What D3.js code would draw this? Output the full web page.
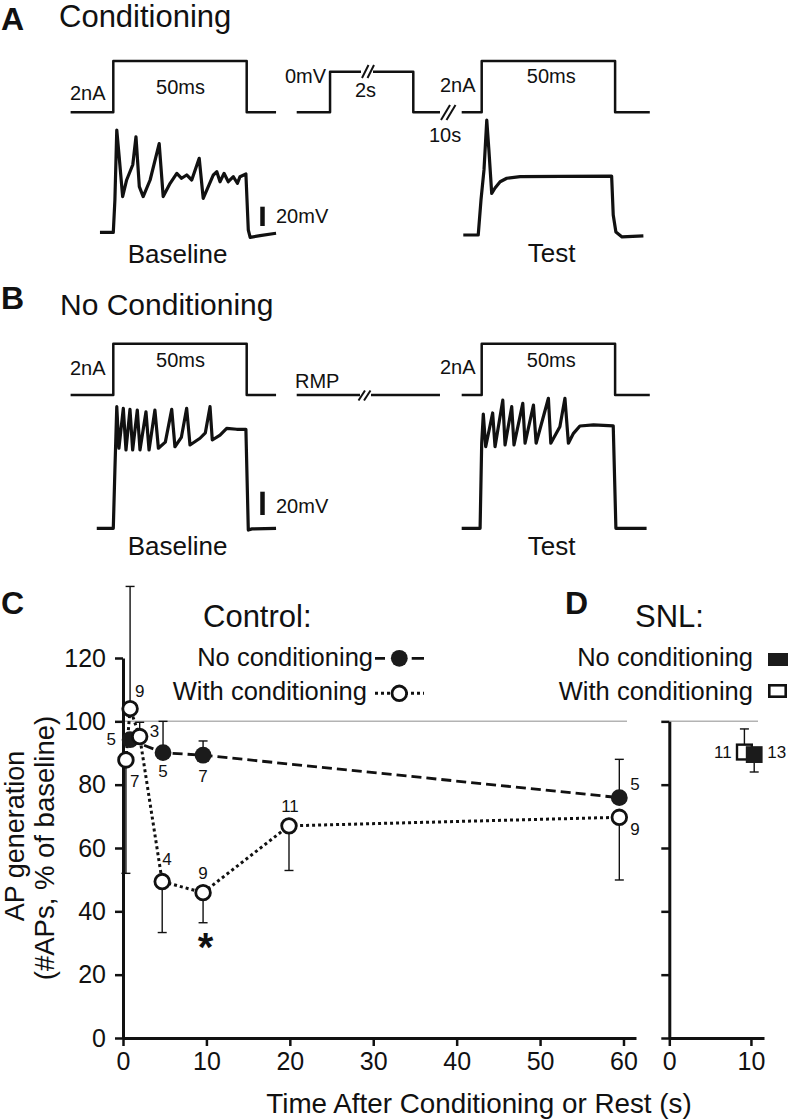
<!DOCTYPE html>
<html>
<head>
<meta charset="utf-8">
<script src="https://cdn.jsdelivr.net/npm/d3@7"></script>
<style>
  body { margin: 0; background: #fff; }
  svg { display: block; }
  text { font-family: "Liberation Sans", Arial, sans-serif; fill: #111; }
</style>
</head>
<body>
<div id="fig"></div>
<script>
// ---- panel C: control neurons, AP generation (% of baseline) vs time (s) ----
var noCondTime = [0.85, 4.8, 9.6, 59.5];
var noCondAP = [94.2, 90.1, 89.3, 75.9];
var noCondErrUp = [0, 9.9, 4.5, 12.1];
var noCondErrDown = [0, 0, 0, 0];
var noCondN = [5, 5, 7, 5];

var condTime = [0.35, 0.85, 2.0, 4.7, 9.6, 19.9, 59.5];
var condAP = [87.8, 104, 95.2, 49.4, 45.9, 67.0, 69.7];
var condErrUp = [0, 38.6, 4.5, 0, 0, 0, 0];
var condErrDown = [35.8, 0, 0, 16.1, 9.5, 14.1, 19.8];
var condN = [7, 9, 3, 4, 9, 11, 9];

// ---- panel D: SNL neurons ----
var snlCondTime = [9.2], snlCondAP = [90.3], snlCondErrUp = [7.3], snlCondN = [11];
var snlNoCondTime = [10.4], snlNoCondAP = [89.5], snlNoCondErrDown = [5.5], snlNoCondN = [13];

var yTicksC = [0, 20, 40, 60, 80, 100, 120];
var xTicksC = [0, 10, 20, 30, 40, 50, 60];
var yTicksD = [0, 20, 40, 60, 80, 100];
var xTicksD = [0, 10];

// ---- panels A/B: recorded traces, time (ms) and membrane potential (mV) ----
var condBaseT = [-5, 0, 0.6, 1.3, 2.2, 3.5, 5.0, 7.3, 8.5, 9.75, 11.2, 13.8, 17.2, 18.7, 21.3, 23.8, 25.6, 27.5, 29.4, 32.2, 33.7, 35.6, 37.5, 38.8, 40, 41.5, 43.1, 45, 46.5, 47.5, 49.7, 50.6, 51.3, 55, 61];
var condBaseV = [-60, -60, -26.5, 46, 18.3, -23, -5.8, 10, 39, -12.7, -23, -5.8, 32, -23, -9.2, 1.1, -4.0, -0.6, -5.8, 16.7, -24.8, -12.7, -0.6, 2.8, -7.6, 1.1, -7.6, -2.4, -9.2, -2.4, 0.4, -57.6, -65.2, -63.5, -61];
var condTestT = [-6.9, -1.3, -0.26, 0.86, 1.9, 2.7, 3.75, 5, 6.9, 9.4, 14.4, 30, 48.7, 49.3, 50.3, 52.6, 60.6];
var condTestV = [-60, -60, -23.7, 7.4, 59, 28, -16.8, -11.3, -4.8, -1.2, 0.4, 0.8, 1.1, -39.3, -56.9, -62, -61];
var restBaseT = [-6.2, 0, 0.6, 1.3, 2.1, 3.75, 4.75, 6.25, 7.25, 9.0, 10.0, 12.25, 13.4, 15.6, 16.9, 19.5, 21.9, 23.1, 25.5, 27.5, 28.75, 32.5, 34.5, 36.25, 37.1, 40, 42.5, 46.25, 49.7, 50.6, 52, 61];
var restBaseV = [-60, -60, -10, 44.4, 8.7, 43, 7.2, 42.1, 7.2, 41.5, 7.2, 40, 7.2, 41.5, 8.7, 14, 42.1, 10, 18, 43, 11.5, 17.3, 22, 44.4, 15.8, 20, 25.8, 25, 25, -61.5, -60.5, -60];
var restTestT = [-7.5, -0.6, 0, 0.6, 1.5, 4.1, 5, 7.9, 8.75, 11.25, 12.1, 15.4, 16.25, 19.4, 20.4, 25, 25.9, 29.3, 31.2, 32.5, 34.4, 36.8, 41.9, 49.3, 50.3, 61.8];
var restTestV = [-60, -60, 13, 38, 10, 39, 10, 50, 11.5, 44.4, 11.5, 47.3, 13, 45.8, 13, 51.6, 13, 27.2, 51.6, 13, 21.5, 27.8, 28.7, 28, -60, -60];

// command protocols
var pulseT = [-16, 0, 0, 50, 50, 61], pulseI = [0, 0, 2, 2, 0, 0];
var testPulseT = [-7.5, 0, 0, 50, 50, 63];
var condStepT = [0, 12.5, 12.5, 43.7, 43.7, 53.7], condStepV = [-60, -60, 0, 0, -60, -60];
var rmpT = [0, 53.7], rmpV = [-60, -60];

var W = 788, H = 1120, ink = '#111';
var svg = d3.select('#fig').append('svg').attr('width', W).attr('height', H);

function txt(x, y, s, size, anchor, weight) {
    return svg.append('text').attr('x', x).attr('y', y).text(s)
        .attr('font-size', size).attr('text-anchor', anchor || 'start')
        .attr('font-weight', weight || 'normal');
}

function path(xs, ys, tArr, vArr, width, dash) {
    var line = d3.line()
        .x(function (d, i) { return xs(tArr[i]); })
        .y(function (d, i) { return ys(vArr[i]); });
    return svg.append('path').datum(tArr).attr('d', line)
        .attr('fill', 'none').attr('stroke', ink).attr('stroke-width', width)
        .attr('stroke-linejoin', 'round').attr('stroke-dasharray', dash || null);
}

// ms -> px (50 ms pulse = 133.4 px), offset per trace
function timeScale(x0) { return d3.scaleLinear().domain([0, 50]).range([x0, x0 + 133.4]); }
function mvScale(y0, pxPer20) { return d3.scaleLinear().domain([-60, -40]).range([y0, y0 - pxPer20]); }
function nAScale(y0) { return d3.scaleLinear().domain([0, 2]).range([y0, y0 - 51.3]); }

function breakMark(x1, x2, y1, y2, gap) {
    if (gap) svg.append('rect').attr('x', gap[0]).attr('y', gap[1]).attr('width', gap[2]).attr('height', gap[3]).attr('fill', '#fff');
    [0, 5.5].forEach(function (o) {
        svg.append('line').attr('x1', x1 + o).attr('y1', y1).attr('x2', x2 + o).attr('y2', y2)
            .attr('stroke', ink).attr('stroke-width', 2);
    });
}

// ================= panel A =================
txt(1, 30, 'A', 32, 'start', 'bold');
txt(59, 27, 'Conditioning', 31);
path(timeScale(113.3), nAScale(112.3), pulseT, pulseI, 2.5);
path(timeScale(296.7), d3.scaleLinear().domain([-60, 0]).range([112.3, 71.7]), condStepT, condStepV, 2.5);
breakMark(362, 368.5, 78, 65, [361, 66, 12, 12]);
path(timeScale(481.7), nAScale(112.3), testPulseT, pulseI, 2.5);
breakMark(441, 450, 120, 105);
txt(70, 100, '2nA', 20); txt(180.5, 94.3, '50ms', 20, 'middle');
txt(285, 83.3, '0mV', 20); txt(355, 96.7, '2s', 20);
txt(429, 141.7, '10s', 20);
txt(440, 91.7, '2nA', 20); txt(551.3, 83.3, '50ms', 20, 'middle');

path(timeScale(113.3), mvScale(232.3, 19.3), condBaseT, condBaseV, 3.2);
path(timeScale(481.7), mvScale(235, 19.3), condTestT, condTestV, 3.2);
svg.append('line').attr('x1', 262.5).attr('x2', 262.5).attr('y1', 226).attr('y2', 226 - 19.3)
    .attr('stroke', ink).attr('stroke-width', 4.5);
txt(276, 222.5, '20mV', 20);
txt(177.5, 263, 'Baseline', 26, 'middle');
txt(551.7, 262, 'Test', 26, 'middle');

// ================= panel B =================
txt(1, 309, 'B', 32, 'start', 'bold');
txt(60, 315, 'No Conditioning', 30);
path(timeScale(113.3), nAScale(395), pulseT, pulseI, 2.5);
path(timeScale(296.7), d3.scaleLinear().domain([-60, 0]).range([395, 354.4]), rmpT, rmpV, 2.5);
breakMark(358.5, 365, 400.5, 390.5, [360, 390, 11, 10]);
path(timeScale(481.7), nAScale(395), testPulseT, pulseI, 2.5);
txt(70, 375, '2nA', 20); txt(180.5, 367.3, '50ms', 20, 'middle');
txt(295, 388.3, 'RMP', 20);
txt(440, 374, '2nA', 20); txt(551.3, 366.7, '50ms', 20, 'middle');

path(timeScale(113.3), mvScale(528.3, 23.3), restBaseT, restBaseV, 3.2);
path(timeScale(481.7), mvScale(528.3, 23.3), restTestT, restTestV, 3.2);
svg.append('line').attr('x1', 262.5).attr('x2', 262.5).attr('y1', 515).attr('y2', 515 - 23.3)
    .attr('stroke', ink).attr('stroke-width', 4.5);
txt(276, 512.5, '20mV', 20);
txt(177.5, 555, 'Baseline', 26, 'middle');
txt(551.7, 555, 'Test', 26, 'middle');

// ================= panel C =================
var xC = d3.scaleLinear().domain([0, 61.5]).range([123, 636]);
var yC = d3.scaleLinear().domain([0, 120]).range([1038, 658]);
var xD = d3.scaleLinear().domain([0, 11.6]).range([669.3, 764]);
var yD = d3.scaleLinear().domain([0, 100]).range([yC(0), yC(100)]);

function styleAxis(g) {
    g.attr('font-size', 25).attr('font-family', '"Liberation Sans", Arial, sans-serif');
    g.select('.domain').attr('stroke', ink).attr('stroke-width', 3);
    g.selectAll('.tick line').attr('stroke', ink).attr('stroke-width', 2.5);
    g.selectAll('.tick text').attr('fill', ink);
}

// reference line at 100 %
svg.append('line').attr('x1', xC(0)).attr('x2', 627).attr('y1', yC(100)).attr('y2', yC(100))
    .attr('stroke', '#b3b3b3').attr('stroke-width', 1.5);
svg.append('line').attr('x1', xD(0)).attr('x2', 758).attr('y1', yD(100)).attr('y2', yD(100))
    .attr('stroke', '#b3b3b3').attr('stroke-width', 1.5);

styleAxis(svg.append('g').attr('transform', 'translate(' + xC(0) + ',0)')
    .call(d3.axisLeft(yC).tickValues(yTicksC).tickSize(8).tickSizeOuter(0).tickPadding(9)));
styleAxis(svg.append('g').attr('transform', 'translate(0,' + yC(0) + ')')
    .call(d3.axisBottom(xC).tickValues(xTicksC).tickSize(8).tickSizeOuter(0).tickPadding(6)));
styleAxis(svg.append('g').attr('transform', 'translate(' + xD(0) + ',0)')
    .call(d3.axisLeft(yD).tickValues(yTicksD).tickFormat('').tickSize(8).tickSizeOuter(0)));
styleAxis(svg.append('g').attr('transform', 'translate(0,' + yD(0) + ')')
    .call(d3.axisBottom(xD).tickValues(xTicksD).tickSize(8).tickSizeOuter(0).tickPadding(6)));

// series lines
path(xC, yC, noCondTime, noCondAP, 2.8, '10,5');
path(xC, yC, condTime, condAP, 3, '3,3');

function errBars(xs, ys, tArr, vArr, up, down) {
    tArr.forEach(function (t, i) {
        var x = xs(t);
        [[up[i], 1], [down[i], -1]].forEach(function (e) {
            if (!e[0]) return;
            var yEnd = ys(vArr[i] + e[0] * e[1]);
            svg.append('line').attr('x1', x).attr('x2', x).attr('y1', ys(vArr[i])).attr('y2', yEnd)
                .attr('stroke', ink).attr('stroke-width', 1.4);
            svg.append('line').attr('x1', x - 4.5).attr('x2', x + 4.5).attr('y1', yEnd).attr('y2', yEnd)
                .attr('stroke', ink).attr('stroke-width', 1.4);
        });
    });
}
errBars(xC, yC, noCondTime, noCondAP, noCondErrUp, noCondErrDown);
errBars(xC, yC, condTime, condAP, condErrUp, condErrDown);

svg.selectAll('circle.nc').data(noCondTime).enter().append('circle').attr('class', 'nc')
    .attr('cx', function (d) { return xC(d); })
    .attr('cy', function (d, i) { return yC(noCondAP[i]); })
    .attr('r', 8.4).attr('fill', '#1b1b1b');
svg.selectAll('circle.wc').data(condTime).enter().append('circle').attr('class', 'wc')
    .attr('cx', function (d) { return xC(d); })
    .attr('cy', function (d, i) { return yC(condAP[i]); })
    .attr('r', 7.3).attr('fill', '#fff').attr('stroke', ink).attr('stroke-width', 2.8);

// n labels (offsets from each marker)
var noCondLab = [[-14, 5, 'end'], [0, 24, 'middle'], [0, 27, 'middle'], [11, -8, 'start']];
var condLab = [[4, 27, 'start'], [5, -12, 'start'], [10, 0.5, 'start'], [0, -17, 'start'],
    [0, -14, 'middle'], [1, -14, 'middle'], [11, 18, 'start']];
noCondN.forEach(function (n, i) {
    txt(xC(noCondTime[i]) + noCondLab[i][0], yC(noCondAP[i]) + noCondLab[i][1], n, 17, noCondLab[i][2]);
});
condN.forEach(function (n, i) {
    txt(xC(condTime[i]) + condLab[i][0], yC(condAP[i]) + condLab[i][1], n, 17, condLab[i][2]);
});
txt(xC(condTime[4]) + 2.5, 961, '*', 40, 'middle', 'bold');

// labels and legend
txt(1, 614, 'C', 32, 'start', 'bold');
txt(203, 627, 'Control:', 31);
txt(373, 666, 'No conditioning', 25.5, 'end');
txt(367, 700, 'With conditioning', 25.5, 'end');
svg.append('line').attr('x1', 375).attr('x2', 424).attr('y1', 658.3).attr('y2', 658.3)
    .attr('stroke', ink).attr('stroke-width', 2.8).attr('stroke-dasharray', '10,26.7,13');
svg.append('circle').attr('cx', 399.3).attr('cy', 658.3).attr('r', 8.4).attr('fill', '#1b1b1b');
svg.append('line').attr('x1', 375).attr('x2', 424).attr('y1', 693.3).attr('y2', 693.3)
    .attr('stroke', ink).attr('stroke-width', 3).attr('stroke-dasharray', '3,3');
svg.append('circle').attr('cx', 399.3).attr('cy', 693.3).attr('r', 7.3)
    .attr('fill', '#fff').attr('stroke', ink).attr('stroke-width', 2.8);

svg.append('text').attr('transform', 'translate(24,836) rotate(-90)').attr('text-anchor', 'middle')
    .attr('font-size', 27).text('AP generation');
svg.append('text').attr('transform', 'translate(54,848) rotate(-90)').attr('text-anchor', 'middle')
    .attr('font-size', 27.5).text('(#APs, % of baseline)');
txt(479, 1113, 'Time After Conditioning or Rest (s)', 27.8, 'middle');

// ================= panel D =================
txt(565, 614, 'D', 32, 'start', 'bold');
txt(635, 627, 'SNL:', 31);
txt(753, 666, 'No conditioning', 25.5, 'end');
txt(753, 700, 'With conditioning', 25.5, 'end');
svg.append('rect').attr('x', 768).attr('y', 653).attr('width', 20).attr('height', 13).attr('fill', '#1b1b1b');
svg.append('rect').attr('x', 769.3).attr('y', 685.3).attr('width', 16.4).attr('height', 11.4)
    .attr('fill', '#fff').attr('stroke', ink).attr('stroke-width', 2.6);

errBars(xD, yD, snlCondTime, snlCondAP, snlCondErrUp, [0]);
errBars(xD, yD, snlNoCondTime, snlNoCondAP, [0], snlNoCondErrDown);
svg.selectAll('rect.swc').data(snlCondTime).enter().append('rect').attr('class', 'swc')
    .attr('x', function (d) { return xD(d) - 7.4; })
    .attr('y', function (d, i) { return yD(snlCondAP[i]) - 7.4; })
    .attr('width', 14.8).attr('height', 14.8)
    .attr('fill', '#fff').attr('stroke', ink).attr('stroke-width', 2.4);
svg.selectAll('rect.snc').data(snlNoCondTime).enter().append('rect').attr('class', 'snc')
    .attr('x', function (d) { return xD(d) - 8.4; })
    .attr('y', function (d, i) { return yD(snlNoCondAP[i]) - 8.4; })
    .attr('width', 16.8).attr('height', 16.8).attr('fill', '#1b1b1b');
txt(xD(snlCondTime[0]) - 12.7, yD(snlCondAP[0]) + 6, snlCondN[0], 17, 'end');
txt(xD(snlNoCondTime[0]) + 13, yD(snlNoCondAP[0]) + 3.5, snlNoCondN[0], 17, 'start');
</script>
</body>
</html>
